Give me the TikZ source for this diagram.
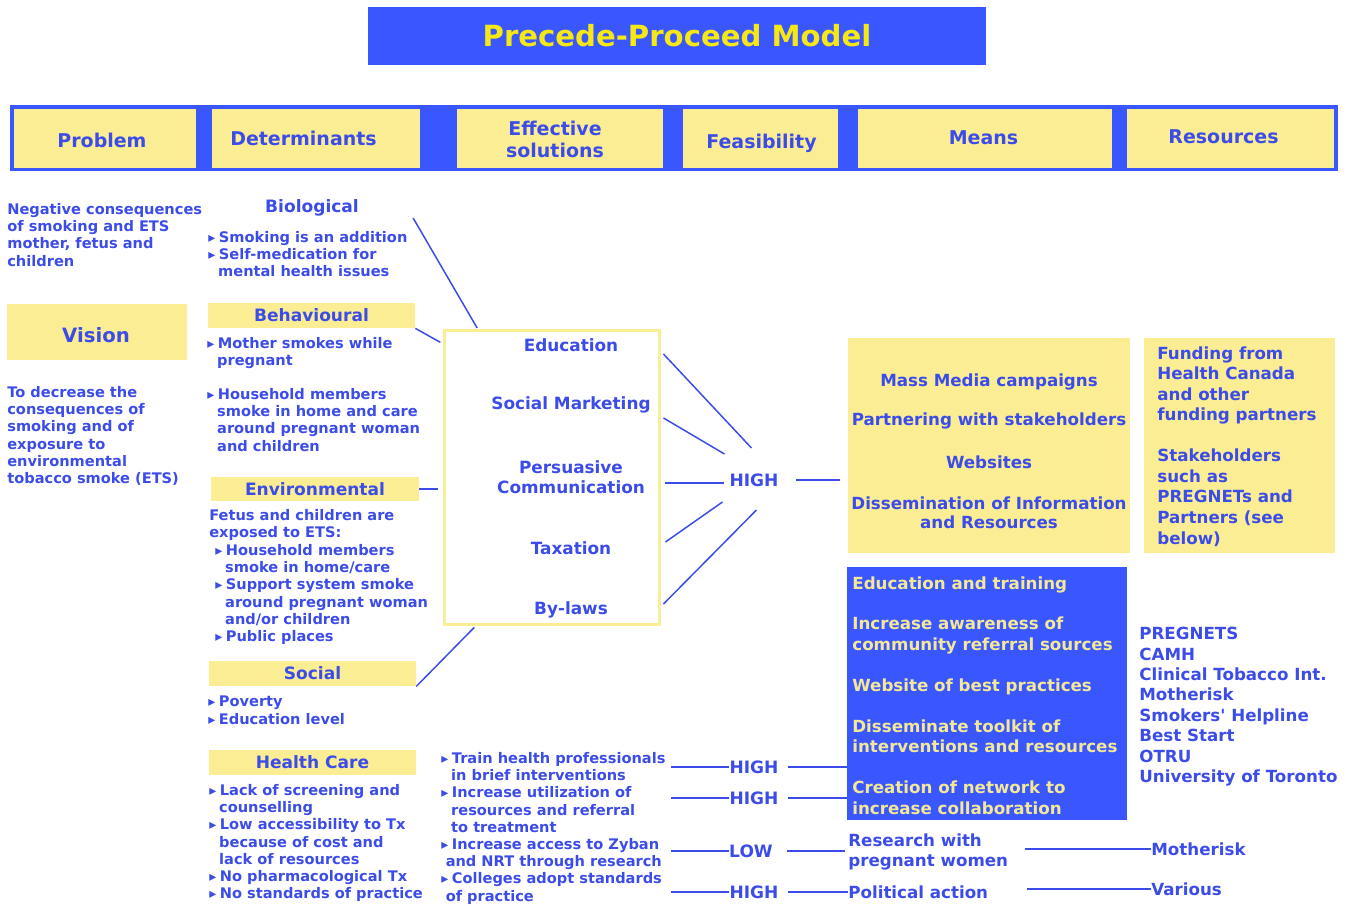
\documentclass[tikz,border=0pt]{standalone}
\usepackage{fontspec}
\setmainfont{DejaVu Sans}
\definecolor{hdrblue}{RGB}{58,86,255}
\definecolor{ink}{RGB}{60,76,232}
\definecolor{paleyel}{RGB}{250,237,148}
\definecolor{trainyel}{RGB}{242,232,150}
\definecolor{titleyel}{RGB}{245,232,20}
\newcommand\bul{{\fontsize{8}{8}\selectfont\symbol{"25B8}}\hspace{2pt}}
\newcommand\ind{\hspace*{5.6pt}}
\tikzset{
  hdrbox/.style={fill=paleyel, inner sep=0pt, minimum height=1.18cm},
  hdrtxt/.style={text=ink, font=\fontsize{10.8}{13}\selectfont\bfseries, inner sep=0pt, align=center},
  lblbox/.style={fill=paleyel, text=ink, font=\fontsize{9.7}{11}\selectfont\bfseries, inner sep=0pt, minimum width=4.14cm, minimum height=0.5cm},
  smalltxt/.style={text=ink, font=\fontsize{8.3}{9.8}\selectfont\bfseries, align=left, inner sep=0pt, anchor=north west},
  bigtxt/.style={text=ink, font=\fontsize{9.5}{11.7}\selectfont\bfseries, inner sep=0pt},
  feas/.style={text=ink, font=\fontsize{9.7}{11}\selectfont\bfseries, inner sep=0pt},
  link/.style={draw=ink, line width=0.85pt},
  thinlink/.style={draw=ink, line width=0.6pt},
  thicklink/.style={draw=ink, line width=1.4pt}
}
\begin{document}
\begin{tikzpicture}[x=0.02cm,y=-0.02cm]
\useasboundingbox (0,0) rectangle (1352,905);
% title and header row
\node[fill=hdrblue, text=titleyel, font=\fontsize{16.6}{18}\selectfont\bfseries, minimum width=12.36cm, minimum height=1.16cm, inner sep=0pt] (title) at (677,36) {Precede-Proceed Model};
\node[fill=hdrblue, minimum width=26.56cm, minimum height=1.32cm, inner sep=0pt] (bar) at (674,138) {};
\foreach \n/\x/\w/\tx/\ty/\t in {prob/105/3.64/102/140/Problem, det/316/4.16/303.5/138/Determinants, sol/560/4.12/555/139.5/{Effective\\solutions}, feasib/760.5/3.1/761.5/143/Feasibility, mean/985/5.08/983.5/138/Means, reso/1230.5/4.14/1223.5/137/Resources}{
  \node[hdrbox, minimum width=\w cm] (\n) at (\x,138.5) {};
  \node[hdrtxt] (\n-t) at (\tx,\ty) {\t};
}

% problem column
\node[smalltxt] (neg) at (7,203) {Negative consequences\\of smoking and ETS\\mother, fetus and\\children};
\node[fill=paleyel, text=ink, font=\fontsize{11.2}{13}\selectfont\bfseries, minimum width=3.6cm, minimum height=1.12cm, inner sep=0pt] (vision) at (97,332) {};
\node[text=ink, font=\fontsize{11.2}{13}\selectfont\bfseries, inner sep=0pt] (vision-t) at (96,335) {Vision};
\node[smalltxt] (goal) at (7,386) {To decrease the\\consequences of\\smoking and of\\exposure to\\environmental\\tobacco smoke (ETS)};

% determinants
\node[feas] (bio) at (312,208) {Biological};
\node[smalltxt] (biolist) at (208,231) {\bul Smoking is an addition\\\bul Self-medication for\\\ind mental health issues};
\node[lblbox] (beh) at (311.5,315.5) {Behavioural};
\node[smalltxt] (behlist) at (207,337) {\bul Mother smokes while\\\ind pregnant};
\node[smalltxt] (behlistb) at (207,388) {\bul Household members\\\ind smoke in home and care\\\ind around pregnant woman\\\ind and children};
\node[lblbox, minimum width=4.16cm] (env) at (315,489) {Environmental};
\node[smalltxt] (envtxt) at (209,509) {Fetus and children are\\exposed to ETS:};
\node[smalltxt] (envlist) at (215,544) {\bul Household members\\\ind smoke in home/care\\\bul Support system smoke\\\ind around pregnant woman\\\ind and/or children\\\bul Public places};
\node[lblbox] (soc) at (312.5,673.5) {Social};
\node[smalltxt] (soclist) at (208,696) {\bul Poverty\\\bul Education level};
\node[lblbox] (hc) at (312.5,762) {Health Care};
\node[smalltxt] (hclist) at (209,784) {\bul Lack of screening and\\\ind counselling\\\bul Low accessibility to Tx\\\ind because of cost and\\\ind lack of resources\\\bul No pharmacological Tx\\\bul No standards of practice};

% effective solutions
\node[draw=paleyel, line width=1.7pt, minimum width=4.32cm, minimum height=5.9cm, inner sep=0pt] (solbox) at (552,477.5) {};
\foreach \n/\y/\t in {edu/345/Education, smk/405/Social Marketing, pers/477/{Persuasive\\Communication}, tax/548/Taxation, law/610/By-laws}
  \node[bigtxt, align=center, font=\fontsize{9.6}{11.4}\selectfont\bfseries] (\n) at (571,\y) {\t};
\node[smalltxt] (hcsol) at (441,752) {\bul Train health professionals\\\ind in brief interventions\\\bul Increase utilization of\\\ind resources and referral\\\ind to treatment\\\bul Increase access to Zyban\\\hspace*{2.5pt}and NRT through research\\\bul Colleges adopt standards\\\hspace*{2.5pt}of practice};

\draw[link] ([shift={(54,10)}]bio.east) -- ++(64,110);
\draw[link] (beh.south east) -- ++(25,14);
\draw[thicklink] (env.east) -- ++(19,0);
\draw[link] (soc.south east) -- ++(58,-59);

% feasibility
\node[feas] (high) at (754,480) {HIGH};
\node[feas] (highb) at (754,767) {HIGH};
\node[feas] (highc) at (754,798) {HIGH};
\node[feas] (low) at (751,851) {LOW};
\node[feas] (highd) at (754,892) {HIGH};
\foreach \sx/\sy/\dx/\dy in {2/-123.5/88/94, 2/-59.5/61/36, 4/64.5/57/-40, 2/126.5/93/-94}
  \draw[link] ([shift={(\sx,\sy)}]solbox.east) -- ++(\dx,\dy);
\draw[thicklink] ([shift={(4,5.5)}]solbox.east) -- ++(59,0);
\draw[thicklink] ([xshift=10pt]high.east) -- ++(44,0);

% means
\node[fill=paleyel, minimum width=5.64cm, minimum height=4.3cm, inner sep=0pt] (means) at (989,445.5) {};
\node[bigtxt] (mma) at (989,382) {Mass Media campaigns};
\node[bigtxt] (mmb) at (989,421) {Partnering with stakeholders};
\node[bigtxt] (mmc) at (989,462) {Websites};
\node[bigtxt, align=center, font=\fontsize{9.5}{10.8}\selectfont\bfseries] (mmd) at (989,513) {Dissemination of Information\\and Resources};
\node[fill=hdrblue, minimum width=5.6cm, minimum height=5.06cm, inner sep=0pt] (train) at (987,693.5) {};
\node[bigtxt, text=trainyel, align=left, anchor=north west] (traintxt) at (852,576) {Education and training\\[11.6pt]Increase awareness of\\community referral sources\\[11.6pt]Website of best practices\\[11.6pt]Disseminate toolkit of\\interventions and resources\\[11.6pt]Creation of network to\\increase collaboration};
\node[bigtxt, align=left, anchor=north west, font=\fontsize{9.5}{11.4}\selectfont\bfseries] (research) at (848,833) {Research with\\pregnant women};
\node[bigtxt, anchor=base west] (polit) at (848,898) {Political action};

\draw[thicklink] (highb.west) -- ++(-58,0);
\draw[thicklink] ([xshift=5pt]highb.east) -- (train.west |- highb);
\draw[thinlink] (highc.west) -- ++(-58,0);
\draw[thinlink] ([xshift=5pt]highc.east) -- (train.west |- highc);
\draw[link] (low.west) -- ++(-58,0);
\draw[thicklink] ([xshift=8pt]low.east) -- ++(58,0);
\draw[thicklink] (highd.west) -- ++(-58,0);
\draw[thinlink] ([xshift=5pt]highd.east) -- (polit.west |- highd);

% resources
\node[fill=paleyel, minimum width=3.82cm, minimum height=4.3cm, inner sep=0pt] (fund) at (1239.5,445.5) {};
\node[bigtxt, align=left, anchor=north west] (fundtxt) at (1157,346) {Funding from\\Health Canada\\and other\\funding partners\\[11.7pt]Stakeholders\\such as\\PREGNETs and\\Partners (see\\below)};
\node[bigtxt, align=left, anchor=north west, font=\fontsize{9.5}{11.6}\selectfont\bfseries] (partners) at (1139,627) {PREGNETS\\CAMH\\Clinical Tobacco Int.\\Motherisk\\Smokers\textquotesingle\ Helpline\\Best Start\\OTRU\\University of Toronto};
\node[bigtxt, anchor=west] (mother) at (1151,849) {Motherisk};
\node[bigtxt, anchor=west] (various) at (1151,889) {Various};
\draw[thinlink] (mother.west) -- ++(-126,0);
\draw[thicklink] (various.west) -- ++(-124,0);
\end{tikzpicture}
\end{document}
